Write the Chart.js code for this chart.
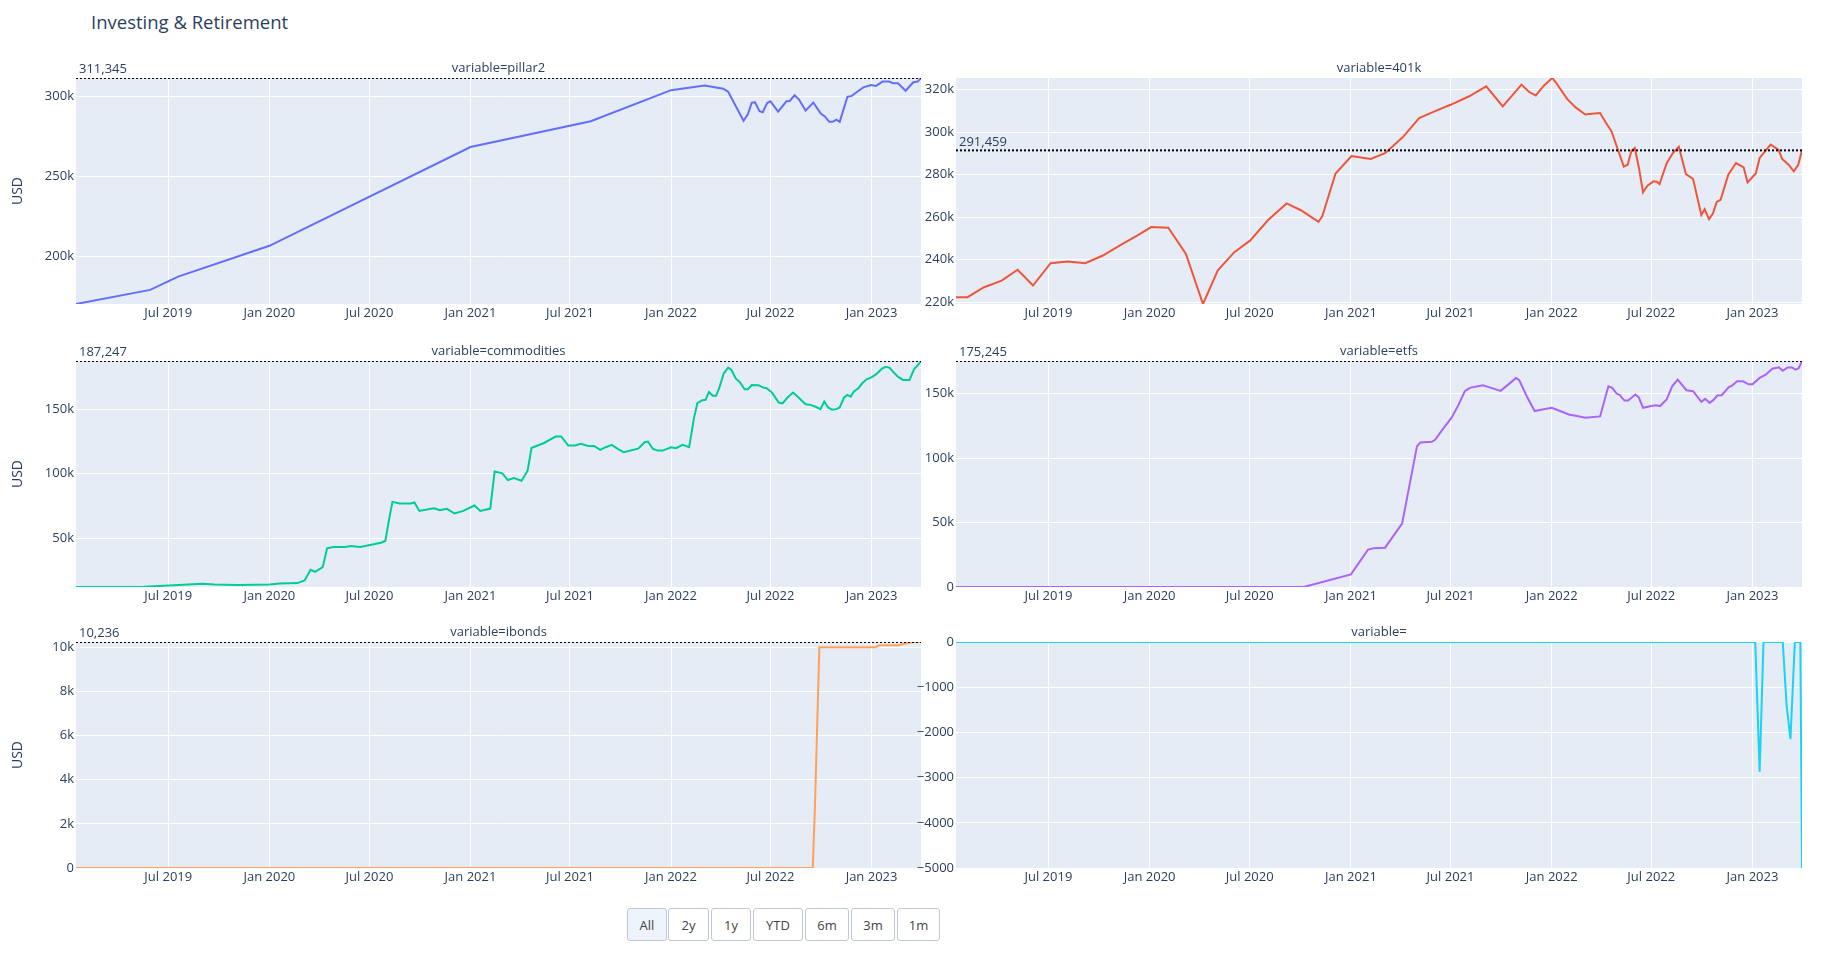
<!DOCTYPE html>
<html>
<head>
<meta charset="utf-8">
<title>Investing & Retirement</title>
<script src="https://cdn.jsdelivr.net/npm/chart.js@4.4.1/dist/chart.umd.min.js"></script>
<style>
  html, body { margin: 0; padding: 0; background: #fff; }
  body { width: 1831px; height: 957px; position: relative; overflow: hidden; font-family: "Open Sans", sans-serif; }
  .title { position: absolute; left: 91px; top: 10px; font-size: 18.5px; line-height: 24px; color: #2a3f5f; }
  canvas { position: absolute; }
  .btn { position: absolute; top: 908px; height: 33px; box-sizing: border-box; border: 1px solid #BEC8D9; border-radius: 3px;
         background: #fff; color: #444; font-size: 13px; display: flex; align-items: center; justify-content: center; }
  .btn.active { background: #EEF4FB; }
</style>
</head>
<body>
<div class="title">Investing &amp; Retirement</div>

<canvas id="pillar2" style="left:0;top:48px" width="925" height="280"></canvas>
<canvas id="k401" style="left:900px;top:48px" width="931" height="280"></canvas>
<canvas id="commodities" style="left:0;top:331px" width="925" height="280"></canvas>
<canvas id="etfs" style="left:900px;top:331px" width="931" height="280"></canvas>
<canvas id="ibonds" style="left:0;top:612px" width="925" height="280"></canvas>
<canvas id="other" style="left:900px;top:612px" width="931" height="280"></canvas>

<div class="btn active" style="left:627px;width:40px">All</div>
<div class="btn" style="left:668px;width:41px">2y</div>
<div class="btn" style="left:711px;width:40px">1y</div>
<div class="btn" style="left:753px;width:50px">YTD</div>
<div class="btn" style="left:805px;width:44px">6m</div>
<div class="btn" style="left:851px;width:44px">3m</div>
<div class="btn" style="left:897px;width:43px">1m</div>

<script>
// shared x axis
const xStart = "2019-01-14";
const xEnd = "2023-04-01";
const xTickDates = ["2019-07-01", "2020-01-01", "2020-07-01", "2021-01-01", "2021-07-01", "2022-01-01", "2022-07-01", "2023-01-01"];
const xTickLabels = ["Jul 2019", "Jan 2020", "Jul 2020", "Jan 2021", "Jul 2021", "Jan 2022", "Jul 2022", "Jan 2023"];

// pillar2
const pillar2Dates = ["2019-01-14", "2019-05-29", "2019-07-19", "2020-01-01", "2021-01-01", "2021-08-08", "2022-01-01", "2022-03-03",
  "2022-04-06", "2022-04-15", "2022-05-13", "2022-05-21", "2022-05-28", "2022-06-03", "2022-06-11", "2022-06-17", "2022-06-25",
  "2022-07-01", "2022-07-15", "2022-07-30", "2022-08-05", "2022-08-14", "2022-08-22", "2022-09-03", "2022-09-17", "2022-10-01",
  "2022-10-08", "2022-10-16", "2022-10-22", "2022-10-29", "2022-11-04", "2022-11-18", "2022-11-26", "2022-12-06", "2022-12-17",
  "2022-12-31", "2023-01-09", "2023-01-21", "2023-02-02", "2023-02-09", "2023-02-18", "2023-03-04", "2023-03-18", "2023-03-26",
  "2023-04-01"];
const pillar2Values = [170400, 179200, 187500, 206700, 268300, 284400, 303750, 306600,
  304700, 302800, 284700, 288900, 296000, 296200, 290600, 290000, 295700,
  296800, 290400, 296800, 297000, 300600, 297900, 291000, 296000, 289000,
  287400, 284000, 284000, 285300, 284000, 299600, 300200, 302800, 305500,
  307000, 306400, 309100, 309100, 308100, 308100, 303400, 308700, 309100,
  311345];
const pillar2Ticks = [200000, 250000, 300000];
const pillar2TickLabels = ["200k", "250k", "300k"];

// 401k
const k401Dates = ["2019-01-14", "2019-02-04", "2019-03-06", "2019-04-07", "2019-05-06", "2019-06-03", "2019-07-05", "2019-08-05",
  "2019-09-06", "2019-10-08", "2019-11-08", "2019-12-10", "2020-01-04", "2020-02-04", "2020-03-07", "2020-04-07", "2020-05-04",
  "2020-06-03", "2020-07-02", "2020-08-03", "2020-09-06", "2020-10-02", "2020-11-03", "2020-11-10", "2020-12-04", "2021-01-02",
  "2021-02-06", "2021-03-04", "2021-04-05", "2021-05-05", "2021-06-02", "2021-07-01", "2021-08-04", "2021-09-04", "2021-10-04",
  "2021-11-07", "2021-11-21", "2021-12-03", "2021-12-18", "2022-01-02", "2022-01-08", "2022-01-29", "2022-02-13", "2022-03-03",
  "2022-03-15", "2022-03-30", "2022-04-09", "2022-04-20", "2022-05-02", "2022-05-12", "2022-05-19", "2022-05-26", "2022-06-01",
  "2022-06-09", "2022-06-16", "2022-06-24", "2022-07-05", "2022-07-11", "2022-07-16", "2022-07-29", "2022-08-09", "2022-08-20",
  "2022-09-02", "2022-09-15", "2022-09-30", "2022-10-06", "2022-10-14", "2022-10-21", "2022-10-28", "2022-11-04", "2022-11-18",
  "2022-12-02", "2022-12-16", "2022-12-23", "2023-01-07", "2023-01-14", "2023-02-03", "2023-02-17", "2023-02-24", "2023-03-08",
  "2023-03-17", "2023-03-25", "2023-04-01"];
const k401Values = [222400, 222400, 227100, 230200, 235300, 227900, 238400, 239200,
  238400, 242000, 246800, 251500, 255400, 255100, 242800, 219200, 235000,
  243600, 249100, 258600, 266500, 263300, 257800, 260600, 280600, 288800,
  287400, 290100, 297600, 306600, 309800, 312900, 316900, 321600, 312100,
  322400, 318900, 317300, 322000, 325500, 323600, 315700, 311800, 308300,
  308700, 309000, 304700, 300300, 291300, 283800, 284700, 291300, 292600,
  282700, 271700, 274800, 276900, 276700, 275600, 285400, 290100, 293200,
  280300, 278000, 261100, 263800, 259100, 261700, 267200, 268200, 280000,
  285500, 283500, 276400, 280600, 287900, 294200, 291800, 287400, 284600,
  281600, 284600, 291459];
const k401Ticks = [220000, 240000, 260000, 280000, 300000, 320000];
const k401TickLabels = ["220k", "240k", "260k", "280k", "300k", "320k"];

// commodities
const commoditiesDates = ["2019-01-14", "2019-04-04", "2019-05-17", "2019-07-02", "2019-09-01", "2019-09-23", "2019-11-04", "2020-01-01",
  "2020-01-19", "2020-02-21", "2020-03-05", "2020-03-16", "2020-03-24", "2020-04-07", "2020-04-15", "2020-04-26", "2020-05-18",
  "2020-05-28", "2020-06-14", "2020-06-30", "2020-07-22", "2020-07-30", "2020-08-07", "2020-08-12", "2020-08-25", "2020-09-14",
  "2020-09-21", "2020-09-30", "2020-10-16", "2020-10-27", "2020-11-06", "2020-11-19", "2020-12-03", "2020-12-19", "2021-01-08",
  "2021-01-19", "2021-02-06", "2021-02-14", "2021-02-28", "2021-03-10", "2021-03-21", "2021-04-04", "2021-04-15", "2021-04-22",
  "2021-05-03", "2021-05-14", "2021-06-05", "2021-06-15", "2021-06-28", "2021-07-10", "2021-07-21", "2021-08-03", "2021-08-14",
  "2021-08-25", "2021-09-04", "2021-09-15", "2021-09-26", "2021-10-07", "2021-11-02", "2021-11-05", "2021-11-14", "2021-11-20",
  "2021-11-29", "2021-12-08", "2021-12-17", "2022-01-01", "2022-01-10", "2022-01-22", "2022-02-03", "2022-02-12", "2022-02-18",
  "2022-02-27", "2022-03-05", "2022-03-11", "2022-03-18", "2022-03-24", "2022-03-30", "2022-04-07", "2022-04-15", "2022-04-21",
  "2022-04-29", "2022-05-06", "2022-05-15", "2022-05-21", "2022-05-28", "2022-06-09", "2022-06-18", "2022-06-24", "2022-07-04",
  "2022-07-16", "2022-07-23", "2022-08-01", "2022-08-11", "2022-08-21", "2022-09-03", "2022-09-12", "2022-09-21", "2022-09-30",
  "2022-10-07", "2022-10-14", "2022-10-21", "2022-10-29", "2022-11-04", "2022-11-12", "2022-11-18", "2022-11-24", "2022-11-30",
  "2022-12-08", "2022-12-15", "2022-12-23", "2022-12-31", "2023-01-09", "2023-01-20", "2023-01-27", "2023-02-03", "2023-02-09",
  "2023-02-18", "2023-02-27", "2023-03-11", "2023-03-20", "2023-03-26", "2023-04-01"];
const commoditiesValues = [12300, 12300, 12400, 13500, 14800, 14300, 13800, 14300,
  15000, 15300, 17400, 25600, 24100, 27700, 42200, 43300, 43300,
  44000, 43300, 44600, 46600, 47900, 67400, 78200, 76900, 76900,
  77700, 71200, 72500, 73300, 71800, 72800, 69200, 71200, 75400,
  71200, 73000, 101800, 100300, 95100, 96600, 94600, 102300, 119900,
  121800, 123600, 128800, 128800, 121800, 121800, 123100, 121500, 121500,
  118400, 120500, 122300, 119200, 116600, 119400, 120500, 124400, 124900,
  119200, 117900, 117900, 120500, 119700, 122300, 120500, 143600, 154600,
  156900, 157200, 163300, 160300, 160300, 166700, 177700, 182100, 180300,
  173600, 171000, 165400, 165400, 168700, 168500, 166700, 166200, 162800,
  155100, 154400, 159000, 162800, 159000, 153800, 153300, 151800, 150000,
  155900, 151300, 149500, 150000, 151300, 159000, 161000, 159700, 163600,
  166200, 170000, 173100, 174400, 176900, 181300, 182800, 182000, 179000,
  175100, 172600, 172600, 181300, 183800, 187247];
const commoditiesTicks = [50000, 100000, 150000];
const commoditiesTickLabels = ["50k", "100k", "150k"];

// etfs
const etfsDates = ["2019-01-14", "2020-10-07", "2021-01-01", "2021-02-01", "2021-02-11", "2021-03-04", "2021-04-04", "2021-05-01",
  "2021-05-07", "2021-05-28", "2021-06-03", "2021-06-16", "2021-07-03", "2021-07-15", "2021-07-27", "2021-08-05", "2021-08-29",
  "2021-09-13", "2021-09-30", "2021-10-16", "2021-10-28", "2021-11-03", "2021-11-18", "2021-12-01", "2021-12-15", "2022-01-01",
  "2022-01-14", "2022-02-01", "2022-02-16", "2022-03-03", "2022-03-30", "2022-04-14", "2022-04-21", "2022-04-29", "2022-05-05",
  "2022-05-13", "2022-05-20", "2022-06-02", "2022-06-08", "2022-06-16", "2022-07-01", "2022-07-09", "2022-07-17", "2022-07-29",
  "2022-08-08", "2022-08-18", "2022-09-03", "2022-09-15", "2022-09-30", "2022-10-07", "2022-10-15", "2022-10-23", "2022-10-29",
  "2022-11-06", "2022-11-19", "2022-11-25", "2022-12-04", "2022-12-15", "2022-12-25", "2023-01-01", "2023-01-14", "2023-01-25",
  "2023-02-06", "2023-02-18", "2023-02-25", "2023-03-06", "2023-03-14", "2023-03-20", "2023-03-26", "2023-04-01"];
const etfsValues = [0, 0, 9800, 29000, 30000, 30500, 49100, 109000,
  112000, 112600, 114100, 121800, 131300, 140800, 151800, 154400, 156400,
  154400, 152100, 157700, 162100, 160300, 146700, 136400, 137700, 139000,
  136900, 133800, 132600, 131300, 132300, 155600, 154400, 150000, 148700,
  144600, 144600, 149200, 147200, 139000, 140300, 141000, 140300, 145400,
  155600, 160800, 152600, 151800, 143600, 145900, 142800, 145400, 148500,
  148700, 155100, 156200, 159500, 159500, 157200, 157200, 162100, 164600,
  169200, 170300, 167700, 170300, 170300, 168500, 169700, 175245];
const etfsTicks = [0, 50000, 100000, 150000];
const etfsTickLabels = ["0", "50k", "100k", "150k"];

// ibonds
const ibondsDates = ["2019-01-14", "2022-09-16", "2022-09-20", "2022-09-28", "2023-01-08", "2023-01-15", "2023-02-19", "2023-03-05",
  "2023-03-19", "2023-04-01"];
const ibondsValues = [0, 0, 2800, 10000, 10000, 10090, 10090, 10180, 10236, 10236];
const ibondsTicks = [0, 2000, 4000, 6000, 8000, 10000];
const ibondsTickLabels = ["0", "2k", "4k", "6k", "8k", "10k"];

// variable= (unnamed)
const otherDates = ["2019-01-14", "2023-01-06", "2023-01-14", "2023-01-21", "2023-02-25", "2023-03-04", "2023-03-11", "2023-03-19",
  "2023-03-29", "2023-04-01"];
const otherValues = [0, 0, -2870, 0, 0, -1400, -2150, 0, 0, -5000];
const otherTicks = [-5000, -4000, -3000, -2000, -1000, 0];
const otherTickLabels = ["−5000", "−4000", "−3000", "−2000", "−1000", "0"];

const textColor = "#2a3f5f";
const fontFamily = '"Open Sans", sans-serif';
const labelSize = 13;
Chart.defaults.font.family = fontFamily;

// plot background, facet title and last-value line
const facetPlugin = {
  id: "facet",
  beforeDraw(chart) {
    const a = chart.chartArea;
    const ctx = chart.ctx;
    ctx.save();
    ctx.fillStyle = "#E5ECF6";
    ctx.fillRect(a.left, a.top, a.right - a.left, a.bottom - a.top);
    ctx.restore();
  },
  afterDraw(chart, args, opts) {
    const a = chart.chartArea;
    const ctx = chart.ctx;
    ctx.save();
    ctx.font = labelSize + "px " + fontFamily;
    ctx.fillStyle = textColor;
    ctx.textAlign = "center";
    ctx.textBaseline = "middle";
    ctx.fillText(opts.title, (a.left + a.right) / 2, a.top - 10);
    if (opts.hline !== null) {
      const y = chart.scales.y.getPixelForValue(opts.hline);
      ctx.save();
      ctx.beginPath();
      ctx.rect(a.left, a.top, a.right - a.left, a.bottom - a.top);
      ctx.clip();
      ctx.strokeStyle = "#000";
      ctx.lineWidth = 2;
      ctx.setLineDash([2, 2]);
      ctx.beginPath();
      ctx.moveTo(a.left, y);
      ctx.lineTo(a.right, y);
      ctx.stroke();
      ctx.restore();
      ctx.textAlign = "left";
      ctx.textBaseline = "bottom";
      ctx.fillText(opts.hline.toLocaleString("en-US"), a.left + 3, y - 2);
    }
    ctx.restore();
  },
};

function makePanel(id, title, dates, values, color, yTicks, yTickLabels, opts) {
  const leftCol = opts.leftCol;
  const yAxisW = leftCol ? 76 : 56;
  const plotW = leftCol ? 845 : 846;
  const canvasW = leftCol ? 925 : 931;
  new Chart(document.getElementById(id), {
    type: "line",
    data: {
      datasets: [{
        data: dates.map((d, i) => ({ x: Date.parse(d), y: values[i] })),
        borderColor: color,
        borderWidth: 2,
        pointRadius: 0,
        tension: 0,
        fill: false,
      }],
    },
    options: {
      responsive: false,
      animation: false,
      events: [],
      layout: { padding: { top: 30, right: canvasW - yAxisW - plotW, bottom: 0, left: 0 } },
      plugins: {
        legend: { display: false },
        tooltip: { enabled: false },
        facet: { title, hline: opts.hline ? values[values.length - 1] : null },
      },
      scales: {
        x: {
          type: "linear",
          min: Date.parse(xStart),
          max: Date.parse(xEnd),
          afterFit: (s) => { s.height = 24; },
          afterBuildTicks: (ax) => { ax.ticks = xTickDates.map((d) => ({ value: Date.parse(d) })); },
          grid: { color: "#ffffff", lineWidth: 1, drawTicks: false },
          border: { display: false },
          ticks: {
            autoSkip: false, maxRotation: 0, padding: 1, color: textColor,
            font: { size: labelSize },
            callback: (v, i) => xTickLabels[i],
          },
        },
        y: {
          type: "linear",
          bounds: "data",
          min: Math.min(...values),
          max: Math.max(...values),
          afterFit: (s) => { s.width = yAxisW; },
          afterBuildTicks: (ax) => { ax.ticks = yTicks.map((v) => ({ value: v })); },
          grid: { color: "#ffffff", lineWidth: 1, drawTicks: false },
          border: { display: false },
          ticks: {
            autoSkip: false, padding: 2, color: textColor,
            font: { size: labelSize },
            callback: (v, i) => yTickLabels[i],
          },
          title: {
            display: leftCol,
            text: "USD",
            color: textColor,
            font: { size: 14 },
            padding: { top: 10, bottom: 0 },
          },
        },
      },
    },
    plugins: [facetPlugin],
  });
}

makePanel("pillar2", "variable=pillar2", pillar2Dates, pillar2Values, "#636efa", pillar2Ticks, pillar2TickLabels, { leftCol: true, hline: true });
makePanel("k401", "variable=401k", k401Dates, k401Values, "#EF553B", k401Ticks, k401TickLabels, { leftCol: false, hline: true });
makePanel("commodities", "variable=commodities", commoditiesDates, commoditiesValues, "#00cc96", commoditiesTicks, commoditiesTickLabels, { leftCol: true, hline: true });
makePanel("etfs", "variable=etfs", etfsDates, etfsValues, "#ab63fa", etfsTicks, etfsTickLabels, { leftCol: false, hline: true });
makePanel("ibonds", "variable=ibonds", ibondsDates, ibondsValues, "#FFA15A", ibondsTicks, ibondsTickLabels, { leftCol: true, hline: true });
makePanel("other", "variable=", otherDates, otherValues, "#19d3f3", otherTicks, otherTickLabels, { leftCol: false, hline: false });
</script>
</body>
</html>
